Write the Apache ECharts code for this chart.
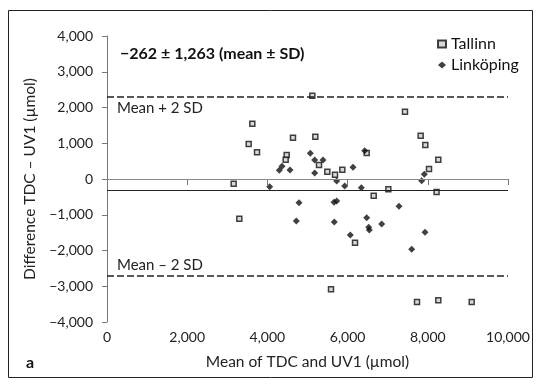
<!DOCTYPE html>
<html>
<head>
<meta charset="utf-8">
<script src="https://cdn.jsdelivr.net/npm/echarts@6/dist/echarts.min.js"></script>
<style>
	html, body { margin: 0; padding: 0; background: #fff; }
	#chart { width: 541px; height: 384px; }
</style>
</head>
<body>
<div id="chart"></div>
<script>
	// Tallinn: mean of TDC and UV1 / difference
	const tallinnMean = [5120, 3624, 3533, 3741, 4638, 5195, 4481, 4456, 5287, 5494, 5686, 3159, 7431, 7822,
		7938, 8262, 8030, 6476, 5868, 6651, 7016, 8219, 3300, 5586, 6185, 7731, 8262, 9095];
	const tallinnDiff = [2330, 1547, 979, 747, 1155, 1183, 671, 541, 392, 204, 120, -131, 1883, 1212,
		951, 541, 280, 727, 261, -467, -289, -364, -1110, -3086, -1781, -3441, -3394, -3441];
	// Linköping
	const linkMean = [5070, 5179, 5387, 5179, 4297, 4364, 4564, 4057, 4788, 5728, 5661, 5728, 6426, 6135,
		5928, 6342, 7913, 7847, 4721, 5668, 6476, 6526, 6541, 6850, 7282, 6067, 7930, 7598];
	const linkDiff = [719, 531, 531, 168, 243, 355, 252, -215, -663, -56, -652, -615, 792, 327,
		-196, -242, 131, -47, -1175, -1203, -1082, -1351, -1427, -1259, -764, -1566, -1492, -1967];

	const xTicks = [0, 2000, 4000, 6000, 8000, 10000];
	const yTicks = [-4000, -3000, -2000, -1000, 0, 1000, 2000, 3000, 4000];
	const meanLine = -320;
	const upperLimit = 2310;
	const lowerLimit = -2710;

	const font = 'Lato';
	const fmt = v => (v < 0 ? '\u2212' : '') + Math.abs(v).toLocaleString('en-US');

	const chart = echarts.init(document.getElementById('chart'));
	chart.setOption({
		animation: false,
		textStyle: { fontFamily: font },
		grid: { left: 107, right: 33, top: 36, bottom: 62 },
		title: {
			text: '\u2212262 \u00b1 1,263 (mean \u00b1 SD)',
			left: 115, top: 41,
			textStyle: { fontFamily: font, fontSize: 16, fontWeight: 'bold', color: '#111' }
		},
		legend: {
			orient: 'vertical',
			left: 432, top: 31,
			itemWidth: 8, itemHeight: 7, itemGap: 5,
			textStyle: { fontFamily: font, fontSize: 16, color: '#111' },
			data: ['Tallinn', 'Linköping']
		},
		xAxis: {
			type: 'value',
			min: xTicks[0], max: xTicks[xTicks.length - 1], interval: 2000,
			name: 'Mean of TDC and UV1 (\u00b5mol)',
			nameLocation: 'middle', nameGap: 32,
			nameTextStyle: { fontSize: 15.5, color: '#222' },
			axisLine: { lineStyle: { color: '#777', width: 1 } },
			axisTick: { length: 6, lineStyle: { color: '#777' } },
			axisLabel: { fontSize: 14, color: '#222', margin: 8, formatter: fmt },
			splitLine: { show: false }
		},
		yAxis: {
			type: 'value',
			min: yTicks[0], max: yTicks[yTicks.length - 1], interval: 1000,
			name: 'Difference TDC \u2013 UV1 (\u00b5mol)',
			nameLocation: 'middle', nameGap: 64,
			nameTextStyle: { fontSize: 15.5, color: '#222' },
			axisLine: { show: true, lineStyle: { color: '#777', width: 1 } },
			axisTick: { show: true, length: 5, lineStyle: { color: '#777' } },
			axisLabel: { fontSize: 14, color: '#222', margin: 14, formatter: fmt },
			splitLine: { show: false }
		},
		graphic: [
			{ type: 'rect', shape: { x: 8.5, y: 10.5, width: 524, height: 367 },
				style: { fill: 'none', stroke: '#222', lineWidth: 1 } },
			{ type: 'text', left: 26, top: 355,
				style: { text: 'a', fontFamily: font, fontSize: 16, fontWeight: 'bold', fill: '#111' } }
		],
		series: [
			{
				name: 'Tallinn',
				type: 'scatter',
				symbol: 'rect',
				symbolSize: 5,
				itemStyle: { color: '#d0d0d0', borderColor: '#111', borderWidth: 1.5 },
				data: tallinnMean.map((x, i) => [x, tallinnDiff[i]]),
				z: 3,
				markLine: {
					silent: true,
					symbol: 'none',
					data: [
						{ yAxis: 0, lineStyle: { color: '#888', width: 1, type: 'solid' }, label: { show: false } },
						{ yAxis: meanLine, lineStyle: { color: '#222', width: 1.2, type: 'solid' }, label: { show: false } },
						{ yAxis: upperLimit, lineStyle: { color: '#222', width: 1.5, type: [7, 3] },
							label: { show: true, position: 'insideStartBottom', formatter: 'Mean + 2 SD',
								fontFamily: font, fontSize: 15, color: '#222', distance: [10, 4] } },
						{ yAxis: lowerLimit, lineStyle: { color: '#222', width: 1.5, type: [7, 3] },
							label: { show: true, position: 'insideStartTop', formatter: 'Mean \u2013 2 SD',
								fontFamily: font, fontSize: 15, color: '#222', distance: [10, 3] } }
					]
				}
			},
			{
				name: 'Linköping',
				type: 'scatter',
				symbol: 'diamond',
				symbolSize: 7,
				itemStyle: { color: '#111' },
				data: linkMean.map((x, i) => [x, linkDiff[i]]),
				z: 4
			}
		]
	});
</script>
</body>
</html>
